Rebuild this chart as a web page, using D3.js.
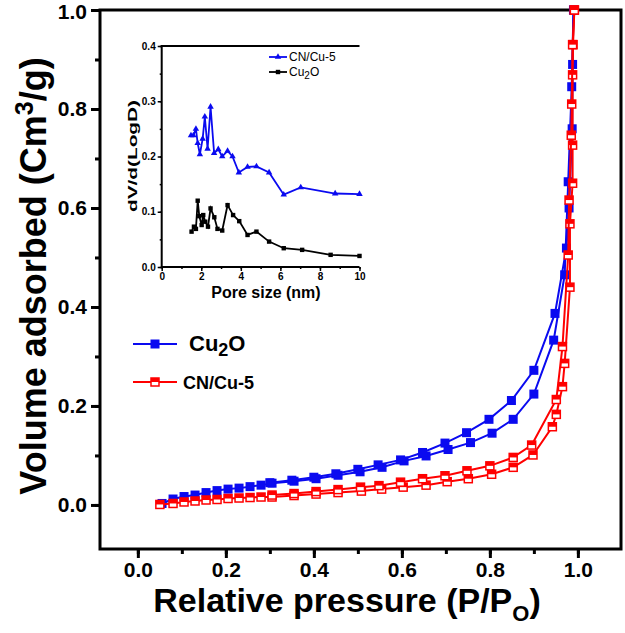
<!DOCTYPE html>
<html><head><meta charset="utf-8">
<script src="https://cdn.jsdelivr.net/npm/d3@7"></script>
<style>body{margin:0;background:#fff}svg{display:block}text{font-family:"Liberation Sans",Arial,sans-serif}</style>
</head><body>
<svg id="c" width="625" height="633"></svg>
<script>
// Main chart: relative pressure vs volume adsorbed
const cu2oAds = [[0.055,0.003],[0.08,0.012],[0.105,0.017],[0.13,0.02],[0.155,0.025],[0.18,0.029],[0.205,0.032],[0.23,0.034],[0.255,0.037],[0.28,0.04],[0.305,0.044],[0.355,0.048],[0.405,0.053],[0.455,0.06],[0.505,0.067],[0.555,0.076],[0.605,0.089],[0.655,0.099],[0.705,0.112],[0.756,0.126],[0.805,0.145],[0.853,0.173],[0.9,0.224],[0.945,0.333],[0.97,0.465],[0.978,0.653],[0.986,0.845],[0.99,1.0]];
const cu2oDes = [[0.99,1.0],[0.988,0.89],[0.987,0.76],[0.98,0.6],[0.974,0.519],[0.948,0.387],[0.9,0.272],[0.849,0.211],[0.798,0.173],[0.747,0.146],[0.698,0.125],[0.647,0.106],[0.597,0.091],[0.546,0.081],[0.5,0.072],[0.45,0.063],[0.4,0.056],[0.35,0.05],[0.3,0.045]];
const cnAds = [[0.05,0.001],[0.08,0.003],[0.105,0.006],[0.13,0.008],[0.155,0.010],[0.18,0.011],[0.205,0.013],[0.23,0.014],[0.255,0.015],[0.28,0.016],[0.305,0.016],[0.355,0.019],[0.405,0.022],[0.455,0.025],[0.508,0.028],[0.554,0.032],[0.603,0.036],[0.655,0.040],[0.703,0.047],[0.751,0.053],[0.804,0.062],[0.853,0.076],[0.898,0.101],[0.942,0.158],[0.951,0.183],[0.965,0.239],[0.97,0.286],[0.982,0.44],[0.982,0.568],[0.988,0.65],[0.988,0.727],[0.988,0.869],[0.989,0.93],[0.992,1.0]];
const cnDes = [[0.992,1.0],[0.988,0.93],[0.986,0.81],[0.985,0.747],[0.98,0.616],[0.978,0.505],[0.965,0.32],[0.951,0.213],[0.895,0.121],[0.853,0.096],[0.8,0.079],[0.748,0.069],[0.698,0.059],[0.647,0.053],[0.597,0.046],[0.548,0.039],[0.506,0.036],[0.455,0.031],[0.405,0.027],[0.355,0.023],[0.305,0.02]];
const xTicks = [0.0,0.2,0.4,0.6,0.8,1.0];
const yTicks = [0.0,0.2,0.4,0.6,0.8,1.0];
// Inset: pore size distribution
const insetCN = [[1.48,0.238],[1.6,0.238],[1.73,0.25],[1.82,0.224],[1.93,0.204],[2.07,0.232],[2.18,0.272],[2.32,0.214],[2.47,0.29],[2.65,0.206],[2.86,0.213],[3.06,0.2],[3.33,0.21],[3.58,0.2],[3.9,0.171],[4.34,0.181],[4.79,0.182],[5.43,0.171],[6.17,0.131],[7.03,0.144],[8.77,0.133],[10.0,0.132]];
const insetCu2O = [[1.51,0.064],[1.63,0.073],[1.73,0.069],[1.82,0.12],[1.9,0.092],[2.02,0.076],[2.1,0.094],[2.2,0.082],[2.34,0.073],[2.47,0.106],[2.66,0.09],[2.82,0.069],[3.06,0.066],[3.33,0.112],[3.61,0.094],[3.92,0.083],[4.34,0.058],[4.79,0.064],[5.43,0.046],[6.17,0.034],[7.1,0.031],[8.54,0.022],[10.0,0.02]];
const insetXTicks = [0,2,4,6,8,10];
const insetYTicks = [0.0,0.1,0.2,0.3,0.4];

const BLUE = "#0a0af0", RED = "#ff0000";
const svg = d3.select("#c");

// ---------- main ----------
const x = d3.scaleLinear().domain([-0.086, 1.098]).range([100, 621]);
const y = d3.scaleLinear().domain([-0.089, 1.0]).range([549, 10]);

const gx = svg.append("g").attr("transform","translate(0,549)");
gx.call(d3.axisBottom(x).tickValues(d3.range(0,1.05,0.1)).tickSize(5).tickFormat(""));
gx.call(g=>g.selectAll(".tick line").attr("stroke-width",3));
const gx2 = svg.append("g").attr("transform","translate(0,549)");
gx2.call(d3.axisBottom(x).tickValues(xTicks).tickSize(9).tickPadding(4).tickFormat(d3.format(".1f")));
gx2.selectAll(".tick line").attr("stroke-width",3);
gx2.selectAll("text").attr("font-size",21).attr("font-weight","bold").attr("font-family","Liberation Sans, Arial");
svg.selectAll(".domain").remove();

const gy = svg.append("g").attr("transform","translate(100,0)");
gy.call(d3.axisLeft(y).tickValues(d3.range(0,1.05,0.1)).tickSize(5).tickFormat(""));
gy.selectAll(".tick line").attr("stroke-width",3);
const gy2 = svg.append("g").attr("transform","translate(100,0)");
gy2.call(d3.axisLeft(y).tickValues(yTicks).tickSize(9).tickPadding(4).tickFormat(d3.format(".1f")));
gy2.selectAll(".tick line").attr("stroke-width",3);
gy2.selectAll("text").attr("font-size",21).attr("font-weight","bold").attr("font-family","Liberation Sans, Arial");
gy2.selectAll(".tick").filter(d=>d===1.0).select("text").attr("dy","0.42em");
svg.selectAll(".domain").remove();

// frame
svg.append("rect").attr("x",100).attr("y",10).attr("width",521).attr("height",539)
  .attr("fill","none").attr("stroke","#000").attr("stroke-width",3);

const line = d3.line().x(d=>x(d[0])).y(d=>y(d[1]));
function drawSeries(data, color, filled){
  svg.append("path").datum(data).attr("d",line).attr("fill","none").attr("stroke",color).attr("stroke-width",2);
  const g = svg.append("g");
  data.forEach(d=>{
    const cx = x(d[0]), cy = y(d[1]);
    if(filled){
      g.append("rect").attr("x",cx-4.5).attr("y",cy-4.5).attr("width",9).attr("height",9).attr("fill",color);
    } else {
      g.append("rect").attr("x",cx-4).attr("y",cy-4).attr("width",8).attr("height",8).attr("fill","#fff").attr("stroke",color).attr("stroke-width",1.5);
      g.append("rect").attr("x",cx-4).attr("y",cy-4).attr("width",8).attr("height",4).attr("fill",color);
    }
  });
}
drawSeries(cu2oAds, BLUE, true);
drawSeries(cu2oDes, BLUE, true);
drawSeries(cnAds, RED, false);
drawSeries(cnDes, RED, false);

// legend
function legendEntry(yy, color, filled){
  svg.append("line").attr("x1",133).attr("x2",177).attr("y1",yy).attr("y2",yy).attr("stroke",color).attr("stroke-width",2);
  if(filled){
    svg.append("rect").attr("x",150.5).attr("y",yy-4.5).attr("width",9).attr("height",9).attr("fill",color);
  } else {
    svg.append("rect").attr("x",151).attr("y",yy-4).attr("width",8).attr("height",8).attr("fill","#fff").attr("stroke",color).attr("stroke-width",1.5);
    svg.append("rect").attr("x",151).attr("y",yy-4).attr("width",8).attr("height",4).attr("fill",color);
  }
}
legendEntry(344, BLUE, true);
legendEntry(382, RED, false);
const l1 = svg.append("text").attr("x",189).attr("y",351).attr("font-size",22).attr("font-weight","bold");
l1.append("tspan").text("Cu");
l1.append("tspan").attr("dy",5).attr("font-size",18).text("2");
l1.append("tspan").attr("dy",-5).text("O");
svg.append("text").attr("x",183).attr("y",389).attr("font-size",18).attr("font-weight","bold").text("CN/Cu-5");

// axis titles
const xt = svg.append("text").attr("x",347).attr("y",612).attr("text-anchor","middle").attr("font-size",34).attr("font-weight","bold");
xt.append("tspan").text("Relative pressure (P/P");
xt.append("tspan").attr("dy",9).attr("font-size",22).text("O");
xt.append("tspan").attr("dy",-9).text(")");
const yt = svg.append("text").attr("transform","translate(46,276) rotate(-90)").attr("text-anchor","middle").attr("font-size",36).attr("font-weight","bold");
yt.append("tspan").text("Volume adsorbed (Cm");
yt.append("tspan").attr("dy",-13).attr("font-size",25).text("3");
yt.append("tspan").attr("dy",13).text("/g)");

// ---------- inset ----------
const ix = d3.scaleLinear().domain([0,10]).range([161.7,359.5]);
const iy = d3.scaleLinear().domain([0,0.4]).range([267,46]);
const ig = svg.append("g");
const igx = ig.append("g").attr("transform","translate(0,267)");
igx.call(d3.axisBottom(ix).tickValues(d3.range(0,10.5,1)).tickSize(2).tickFormat(""));
const igx2 = ig.append("g").attr("transform","translate(0,267)");
igx2.call(d3.axisBottom(ix).tickValues(insetXTicks).tickSize(4).tickPadding(2).tickFormat(d3.format("d")));
igx2.selectAll("text").attr("font-size",10).attr("font-weight","bold").attr("font-family","Liberation Sans, Arial");
const igy = ig.append("g").attr("transform","translate(161.7,0)");
igy.call(d3.axisLeft(iy).tickValues(d3.range(0,0.41,0.05)).tickSize(2).tickFormat(""));
const igy2 = ig.append("g").attr("transform","translate(161.7,0)");
igy2.call(d3.axisLeft(iy).tickValues(insetYTicks).tickSize(4).tickPadding(2).tickFormat(d3.format(".1f")));
igy2.selectAll("text").attr("font-size",10).attr("font-weight","bold").attr("font-family","Liberation Sans, Arial");
ig.selectAll(".domain").remove();
ig.selectAll(".tick line").attr("stroke-width",1.5);
ig.append("path").attr("d",`M${ix(10)},${iy(0.4)}H${ix(0)}V${iy(0)}H${ix(10)}`).attr("fill","none").attr("stroke","#000").attr("stroke-width",2);

const iline = d3.line().x(d=>ix(d[0])).y(d=>iy(d[1]));
ig.append("path").datum(insetCN).attr("d",iline).attr("fill","none").attr("stroke",BLUE).attr("stroke-width",1.8);
ig.append("g").selectAll("path").data(insetCN).join("path")
  .attr("d",d3.symbol(d3.symbolTriangle,18)).attr("transform",d=>`translate(${ix(d[0])},${iy(d[1])})`).attr("fill",BLUE);
ig.append("path").datum(insetCu2O).attr("d",iline).attr("fill","none").attr("stroke","#000").attr("stroke-width",1.8);
ig.append("g").selectAll("rect").data(insetCu2O).join("rect")
  .attr("x",d=>ix(d[0])-2.2).attr("y",d=>iy(d[1])-2.2).attr("width",4.4).attr("height",4.4).attr("fill","#000");

// inset legend
ig.append("line").attr("x1",269).attr("x2",287).attr("y1",57).attr("y2",57).attr("stroke",BLUE).attr("stroke-width",1.8);
ig.append("path").attr("d",d3.symbol(d3.symbolTriangle,18)).attr("transform","translate(278,57)").attr("fill",BLUE);
ig.append("text").attr("x",289).attr("y",61).attr("font-size",12).text("CN/Cu-5");
ig.append("line").attr("x1",269).attr("x2",287).attr("y1",72).attr("y2",72).attr("stroke","#000").attr("stroke-width",1.8);
ig.append("rect").attr("x",275.8).attr("y",69.8).attr("width",4.4).attr("height",4.4).attr("fill","#000");
const il2 = ig.append("text").attr("x",289).attr("y",76).attr("font-size",12);
il2.append("tspan").text("Cu");
il2.append("tspan").attr("dy",3).attr("font-size",10).text("2");
il2.append("tspan").attr("dy",-3).text("O");

ig.append("text").attr("x",266).attr("y",298).attr("text-anchor","middle").attr("font-size",16).attr("font-weight","bold").text("Pore size (nm)");
ig.append("text").attr("transform","translate(137,156) rotate(-90)").attr("text-anchor","middle").attr("font-size",13).attr("font-weight","bold")
  .attr("textLength",112).attr("lengthAdjust","spacingAndGlyphs").text("dV/d(LogD)");
</script>
</body></html>
